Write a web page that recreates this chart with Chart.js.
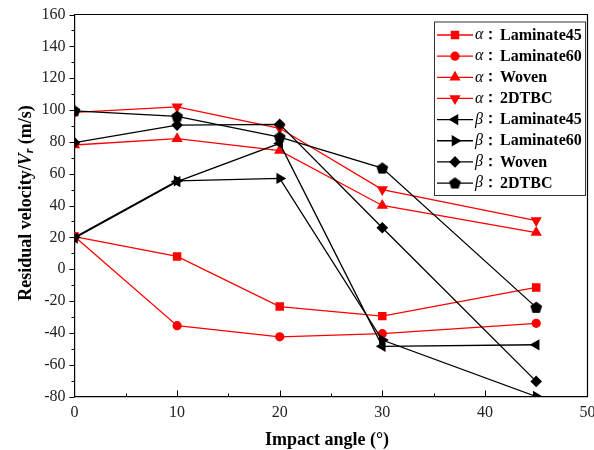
<!DOCTYPE html>
<html>
<head>
<meta charset="utf-8">
<script src="https://cdn.jsdelivr.net/npm/chart.js@4.4.1/dist/chart.umd.min.js"></script>
<style>
  html, body { margin: 0; padding: 0; background: #fff; }
  #wrap { width: 594px; height: 450px; }
</style>
</head>
<body>
<div id="wrap"><canvas id="c" width="594" height="450"></canvas></div>
<script>
// ---- data ----
const angles = [0, 10, 20, 30, 45];
const alphaLaminate45 = [20.5, 8, -23.5, -29.5, -11.5];
const alphaLaminate60 = [20.5, -35.5, -42.5, -40.5, -34];
const alphaWoven = [78, 82, 74.5, 40, 23];
const alpha2DTBC = [98.5, 102, 88.5, 50, 30.5];
const betaLaminate45 = [19.5, 55, 79, -48.5, -47.5];
const betaLaminate60 = [20, 55.5, 57, -44.5, -80];
const betaWoven = [79.5, 90.5, 91, 26, -70.5];
const beta2DTBC = [99.5, 96, 83, 63.5, -24];

const seriesPrefix = ['α', 'α', 'α', 'α', 'β', 'β', 'β', 'β'];
const seriesNames = ['Laminate45', 'Laminate60', 'Woven', '2DTBC', 'Laminate45', 'Laminate60', 'Woven', '2DTBC'];
const xTickValues = [0, 10, 20, 30, 40, 50];
const yTickValues = [-80, -60, -40, -20, 0, 20, 40, 60, 80, 100, 120, 140, 160];
const xTitle = 'Impact angle (°)';

// pentagon marker
function makePentagon(r, color) {
  const s = Math.ceil(r * 2 + 2);
  const cv = document.createElement('canvas');
  cv.width = s; cv.height = s;
  const g = cv.getContext('2d');
  g.fillStyle = color;
  g.beginPath();
  for (let k = 0; k < 5; k++) {
    const a = -Math.PI / 2 + k * 2 * Math.PI / 5;
    const px = s / 2 + r * Math.cos(a), py = s / 2 + r * Math.sin(a) + 0.5;
    if (k === 0) g.moveTo(px, py); else g.lineTo(px, py);
  }
  g.closePath(); g.fill();
  return cv;
}
const pent = makePentagon(6.2, '#000');

function pts(arr) { return arr.map((v, i) => ({ x: angles[i], y: v })); }

const RED = '#ff0000', BLK = '#000000';
const styles = [
  { c: RED, ps: 'rect', r: 6, rot: 0 },
  { c: RED, ps: 'circle', r: 4.6, rot: 0 },
  { c: RED, ps: 'triangle', r: 6.5, rot: 0 },
  { c: RED, ps: 'triangle', r: 6.5, rot: 180 },
  { c: BLK, ps: 'triangle', r: 6.5, rot: -90 },
  { c: BLK, ps: 'triangle', r: 6.5, rot: 90 },
  { c: BLK, ps: 'rectRot', r: 5.8, rot: 0 },
  { c: BLK, ps: pent, r: 6, rot: 0 }
];
const values = [alphaLaminate45, alphaLaminate60, alphaWoven, alpha2DTBC,
                betaLaminate45, betaLaminate60, betaWoven, beta2DTBC];

const datasets = values.map((v, i) => ({
  label: seriesPrefix[i] + '：' + seriesNames[i],
  data: pts(v),
  borderColor: styles[i].c,
  backgroundColor: styles[i].c,
  pointBackgroundColor: styles[i].c,
  pointBorderColor: styles[i].c,
  pointBorderWidth: 0,
  borderWidth: 1.3,
  pointStyle: styles[i].ps,
  pointRadius: styles[i].r,
  pointRotation: styles[i].rot,
  tension: 0,
  fill: false,
  order: i < 4 ? 1 : 0
}));

const SERIF = '"Liberation Serif", "Times New Roman", serif';
const PLOT = { left: 74.5, right: 589.5, top: 14.5, bottom: 396.5 };

function drawMarker(ctx, st, x, y) {
  if (Chart.helpers && Chart.helpers.drawPoint) {
    ctx.fillStyle = st.c; ctx.strokeStyle = st.c; ctx.lineWidth = 0.01;
    Chart.helpers.drawPoint(ctx, { pointStyle: st.ps, radius: st.r, rotation: st.rot, borderWidth: 0 }, x, y);
  }
}

const decor = {
  id: 'decor',
  afterDraw(chart) {
    const ctx = chart.ctx;
    const xs = chart.scales.x, ys = chart.scales.y;
    const ca = chart.chartArea;
    ctx.save();
    // frame top/right
    ctx.strokeStyle = '#000'; ctx.lineWidth = 1.2;
    ctx.beginPath();
    ctx.moveTo(ca.left, ca.top); ctx.lineTo(ca.right, ca.top); ctx.lineTo(ca.right, ca.bottom);
    ctx.stroke();
    // y ticks (outward)
    ctx.lineWidth = 1;
    ctx.beginPath();
    for (let v = -80; v <= 160; v += 10) {
      const py = Math.round(ys.getPixelForValue(v)) + 0.5;
      const len = (v % 20 === 0) ? 5 : 3;
      ctx.moveTo(ca.left, py); ctx.lineTo(ca.left - len, py);
    }
    // x ticks (inward)
    for (let v = 5; v <= 45; v += 5) {
      const px = Math.round(xs.getPixelForValue(v)) + 0.5;
      const len = (v % 10 === 0) ? 6 : 3;
      ctx.moveTo(px, ca.bottom); ctx.lineTo(px, ca.bottom - len);
    }
    ctx.stroke();

    // x title
    ctx.fillStyle = '#000';
    ctx.font = 'bold 18px ' + SERIF;
    ctx.textAlign = 'center'; ctx.textBaseline = 'middle';
    ctx.fillText(xTitle, (ca.left + ca.right) / 2 - 4, 440);

    // y title (rotated, with italic V and subscript r)
    const parts = [
      { t: 'Residual velocity/', f: 'bold 18px ' + SERIF, dy: 0 },
      { t: 'V', f: 'italic bold 18px ' + SERIF, dy: 0 },
      { t: 'r', f: 'italic bold 12px ' + SERIF, dy: 4 },
      { t: ' (m/s)', f: 'bold 18px ' + SERIF, dy: 0 }
    ];
    let total = 0;
    parts.forEach(p => { ctx.font = p.f; p.w = ctx.measureText(p.t).width; total += p.w; });
    ctx.translate(26, 203);
    ctx.rotate(-Math.PI / 2);
    ctx.textAlign = 'left'; ctx.textBaseline = 'middle';
    let cx = -total / 2;
    parts.forEach(p => { ctx.font = p.f; ctx.fillText(p.t, cx, p.dy); cx += p.w; });
    ctx.setTransform(1, 0, 0, 1, 0, 0);

    // legend box
    const L = { left: 434, right: 585, top: 21.5, bottom: 195 };
    ctx.fillStyle = '#fff';
    ctx.fillRect(L.left, L.top, L.right - L.left, L.bottom - L.top);
    ctx.strokeStyle = '#333'; ctx.lineWidth = 1;
    ctx.strokeRect(L.left + 0.5, L.top + 0.5, L.right - L.left, L.bottom - L.top);
    chart.data.datasets.forEach((ds, i) => {
      const y = 35 + i * 21.15;
      const st = styles[i];
      ctx.strokeStyle = st.c; ctx.lineWidth = 1.3;
      ctx.beginPath(); ctx.moveTo(437, y); ctx.lineTo(473, y); ctx.stroke();
      drawMarker(ctx, st, 455, y);
      ctx.fillStyle = '#000';
      ctx.textAlign = 'left'; ctx.textBaseline = 'middle';
      ctx.font = 'italic 16px ' + SERIF;
      ctx.fillText(seriesPrefix[i], 475, y);
      ctx.font = 'bold 15px ' + SERIF;
      ctx.fillText('：', 483, y);
      ctx.font = 'bold 16px ' + SERIF;
      ctx.fillText(seriesNames[i], 500, y + 0.5);
    });
    ctx.restore();
  }
};

new Chart(document.getElementById('c'), {
  type: 'line',
  data: { datasets },
  options: {
    responsive: false,
    animation: false,
    devicePixelRatio: 1,
    layout: { padding: { left: 0, right: 594 - PLOT.right, top: PLOT.top, bottom: 0 } },
    plugins: { legend: { display: false }, tooltip: { enabled: false } },
    scales: {
      x: {
        type: 'linear', min: 0, max: 50,
        afterBuildTicks: (s) => { s.ticks = xTickValues.map(v => ({ value: v })); },
        afterFit: (s) => { s.height = 450 - PLOT.bottom; s.paddingLeft = 0; s.paddingRight = 0; },
        grid: { display: true, drawOnChartArea: false, drawTicks: false },
        border: { display: true, color: '#000', width: 1.2 },
        ticks: { color: '#222', font: { family: SERIF, size: 16 }, padding: 7, maxRotation: 0, autoSkip: false }
      },
      y: {
        min: -80, max: 160,
        afterBuildTicks: (s) => { s.ticks = yTickValues.map(v => ({ value: v })); },
        afterFit: (s) => { s.width = PLOT.left; s.paddingTop = 0; s.paddingBottom = 0; },
        grid: { display: true, drawOnChartArea: false, drawTicks: false },
        border: { display: true, color: '#000', width: 1.2 },
        ticks: { color: '#222', font: { family: SERIF, size: 16 }, padding: 9, autoSkip: false }
      }
    }
  },
  plugins: [decor]
});
</script>
</body>
</html>
